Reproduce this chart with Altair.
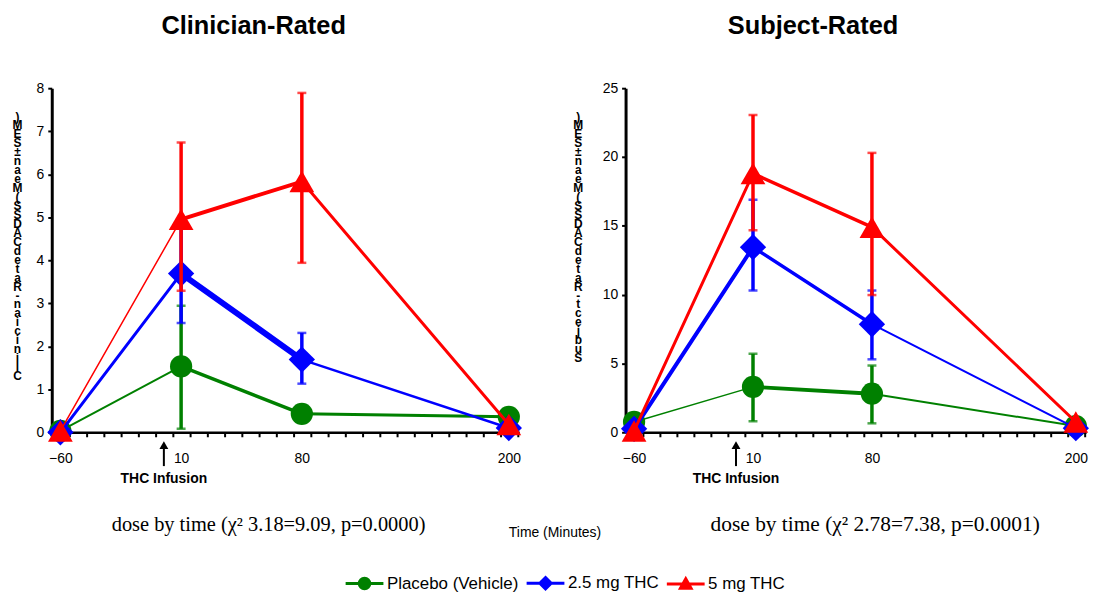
import altair as alt
import pandas as pd

# ---------------- data ----------------
TIMES = [-60, 10, 80, 200]
SERIES = ["Placebo (Vehicle)", "2.5 mg THC", "5 mg THC"]
COLORS = ["#008000", "#0000FF", "#FF0000"]
SHAPES = ["circle", "diamond", "triangle-up"]
MARKER_SIZES = [500, 700, 620]

X_TICK_LABELS = [-60, 10, 80, 200]
MINOR_TICKS = [-54.5, -44.5, -34.5, -24.5, -14.5, -4.5, 5.5, 15.5, 25.5, 35.5, 45.5,
               55.5, 65.5, 75.5, 85.5, 95.5, 105.5, 115.5, 125.5, 135.5, 145.5,
               155.5, 165.5, 175.5, 185.5, 195.5, 205.5]
INFUSION_TIME = 0

# Clinician-rated CADSS (mean, lower / upper error bar ends)
clin_placebo = [0.03, 1.53, 0.43, 0.36]
clin_placebo_low = [0.03, 0.08, 0.25, 0.36]
clin_placebo_high = [0.03, 2.94, 0.60, 0.36]
clin_25mg = [0.0, 3.69, 1.69, 0.10]
clin_25mg_low = [0.0, 2.54, 1.13, 0.10]
clin_25mg_high = [0.0, 4.84, 2.31, 0.10]
clin_5mg = [0.03, 4.95, 5.83, 0.18]
clin_5mg_low = [0.03, 3.29, 3.94, 0.18]
clin_5mg_high = [0.03, 6.74, 7.89, 0.18]

# Subject-rated CADSS
subj_placebo = [0.75, 3.30, 2.80, 0.45]
subj_placebo_low = [0.75, 0.80, 0.65, 0.45]
subj_placebo_high = [0.75, 5.70, 4.85, 0.45]
subj_25mg = [0.25, 13.45, 7.85, 0.30]
subj_25mg_low = [0.25, 10.30, 5.30, 0.30]
subj_25mg_high = [0.25, 16.90, 10.30, 0.30]
subj_5mg = [0.10, 18.80, 14.90, 0.75]
subj_5mg_low = [0.10, 14.67, 9.97, 0.75]
subj_5mg_high = [0.10, 23.05, 20.30, 0.75]

# line widths of each segment (style)
clin_seg_widths = [[2, 3.5, 3], [3, 6, 2.5], [1.5, 4, 3]]
subj_seg_widths = [[1.5, 4, 2], [4, 3.5, 2], [3, 3.5, 3]]

CLIN_YTITLE = "Clinician-Rated CADSS (Mean \u00b1 SEM)"
SUBJ_YTITLE = "Subject-Rated CADSS (Mean \u00b1 SEM)"
CLIN_NOTE = "dose by time (\u03c7\u00b2 3.18=9.09, p=0.0000)"
SUBJ_NOTE = "dose by time (\u03c7\u00b2 2.78=7.38, p=0.0001)"

# ---------------- chart ----------------
H = 346
X_DOMAIN = [-65, 206]
SANS = "Liberation Sans"
SERIF = "Liberation Serif"

LEG_PATHS = [
    "M-1,0L1,0M-0.28,0A0.28,0.28,0,1,0,0.28,0A0.28,0.28,0,1,0,-0.28,0Z",
    "M-1,0L1,0M0,-0.3L0.3,0L0,0.3L-0.3,0Z",
    "M-1,0L1,0M0,-0.28L0.28,0.22L-0.28,0.22Z",
]
shape_expr = ("datum.value === '%s' ? '%s' : datum.value === '%s' ? '%s' : '%s'"
              % (SERIES[0], LEG_PATHS[0], SERIES[1], LEG_PATHS[1], LEG_PATHS[2]))

LEGEND = alt.Legend(
    orient="none", legendX=294, legendY=477, direction="horizontal", title=None,
    labelFontSize=17, labelFont=SANS, labelColor="black", symbolSize=1444,
    symbolStrokeWidth=3, columnPadding=1, labelOffset=2, symbolOpacity=1,
    symbolType={"expr": shape_expr},
    symbolStrokeColor={"expr": "scale('color', datum.value)"},
)


def build_panel(title_text, title_dx, ytitle, ytitle_x, ymax, ystep, width,
                means, lows, highs, widths, note, note_x, note_size, time_label):
    xs = alt.Scale(domain=X_DOMAIN, nice=False, zero=False)
    ys = alt.Scale(domain=[0, ymax], nice=False)
    xaxis = alt.Axis(values=X_TICK_LABELS, title=None, ticks=False, grid=False,
                     labelPadding=19, labelFontSize=14, labelFont=SANS,
                     labelColor="black", domainColor="black", domainWidth=2.5,
                     labelFlush=False)
    yaxis = alt.Axis(values=list(range(0, ymax + 1, ystep)), grid=False,
                     title=list(reversed(ytitle)), titleAngle=0, titleAlign="center",
                     titleBaseline="top", titleX=ytitle_x, titleY=23,
                     titleLineHeight=9.0, titleFontSize=12, titleFont=SANS,
                     titleFontWeight="bold", titleColor="black",
                     tickSize=4, tickWidth=2, tickColor="black",
                     domainColor="black", domainWidth=3,
                     labelFontSize=14, labelFont=SANS, labelColor="black",
                     labelPadding=4)

    layers = []
    tick_df = pd.DataFrame({"t": MINOR_TICKS})
    layers.append(alt.Chart(tick_df).mark_rule(color="black", strokeWidth=2).encode(
        x=alt.X("t:Q", scale=xs, axis=xaxis), y=alt.value(H), y2=alt.value(H + 5)))

    for i, s in enumerate(SERIES):
        col = COLORS[i]
        m, lo, hi = means[i], lows[i], highs[i]
        seg = pd.DataFrame({
            "x": TIMES[:-1], "x2": TIMES[1:], "y": m[:-1], "y2": m[1:], "w": widths[i],
        })
        layers.append(alt.Chart(seg).mark_rule(color=col, strokeCap="round").encode(
            x=alt.X("x:Q", scale=xs, axis=xaxis), x2="x2:Q",
            y=alt.Y("y:Q", scale=ys, axis=yaxis), y2="y2:Q",
            strokeWidth=alt.StrokeWidth("w:Q", scale=None)))
        err = pd.DataFrame({"time": TIMES, "lo": lo, "hi": hi})
        layers.append(alt.Chart(err).mark_rule(color=col, strokeWidth=3.5).encode(
            x=alt.X("time:Q", scale=xs, axis=xaxis),
            y=alt.Y("lo:Q", scale=ys, axis=yaxis), y2="hi:Q"))
        caps = pd.DataFrame({"time": TIMES + TIMES, "v": lo + hi})
        layers.append(alt.Chart(caps).mark_tick(color=col, orient="horizontal",
                                                size=9, thickness=2.5).encode(
            x=alt.X("time:Q", scale=xs, axis=xaxis),
            y=alt.Y("v:Q", scale=ys, axis=yaxis)))
        pts = pd.DataFrame({"time": TIMES, "value": m, "series": s})
        layers.append(alt.Chart(pts).mark_point(shape=SHAPES[i], filled=True,
                                                size=MARKER_SIZES[i], opacity=1).encode(
            x=alt.X("time:Q", scale=xs, axis=xaxis),
            y=alt.Y("value:Q", scale=ys, axis=yaxis),
            color=alt.Color("series:N", scale=alt.Scale(domain=SERIES, range=COLORS),
                            legend=LEGEND)))

    inf = pd.DataFrame({"t": [INFUSION_TIME], "label": ["THC Infusion"]})
    layers.append(alt.Chart(inf).mark_rule(color="black", strokeWidth=2).encode(
        x=alt.X("t:Q", scale=xs, axis=xaxis), y=alt.value(H + 14), y2=alt.value(H + 34)))
    layers.append(alt.Chart(inf).mark_point(shape="triangle-up", filled=True, size=80,
                                            color="black", opacity=1).encode(
        x=alt.X("t:Q", scale=xs, axis=xaxis), y=alt.value(H + 13)))
    layers.append(alt.Chart(inf).mark_text(font=SANS, fontSize=14, fontWeight="bold",
                                           color="black").encode(
        x=alt.X("t:Q", scale=xs, axis=xaxis), y=alt.value(H + 47), text="label:N"))

    note_df = pd.DataFrame({"label": [note]})
    layers.append(alt.Chart(note_df).mark_text(font=SERIF, fontSize=note_size,
                                               color="black").encode(
        x=alt.value(note_x), y=alt.value(H + 93), text="label:N"))
    if time_label:
        tl = pd.DataFrame({"label": ["Time (Minutes)"]})
        layers.append(alt.Chart(tl).mark_text(font=SANS, fontSize=14,
                                              color="black").encode(
            x=alt.value(506), y=alt.value(H + 101), text="label:N"))

    return alt.layer(*layers).properties(
        width=width, height=H,
        title=alt.TitleParams(title_text, fontSize=25.5, fontWeight="bold", font=SANS,
                              color="black", anchor="middle", dx=title_dx, offset=42),
    )


clin_means = [clin_placebo, clin_25mg, clin_5mg]
clin_lows = [clin_placebo_low, clin_25mg_low, clin_5mg_low]
clin_highs = [clin_placebo_high, clin_25mg_high, clin_5mg_high]
subj_means = [subj_placebo, subj_25mg, subj_5mg]
subj_lows = [subj_placebo_low, subj_25mg_low, subj_5mg_low]
subj_highs = [subj_placebo_high, subj_25mg_high, subj_5mg_high]

left = build_panel("Clinician-Rated", -32, CLIN_YTITLE, -35, 8, 1, 470,
                   clin_means, clin_lows, clin_highs, clin_seg_widths,
                   CLIN_NOTE, 218, 20.5, True)
right = build_panel("Subject-Rated", -43, SUBJ_YTITLE, -48, 25, 5, 463,
                    subj_means, subj_lows, subj_highs, subj_seg_widths,
                    SUBJ_NOTE, 251, 21.5, False)

chart = alt.hconcat(left, right, spacing=107, bounds="flush").properties(
    padding={"left": 4, "top": 4, "right": 0, "bottom": 0}
).configure(font=SANS).configure_view(stroke=None)

chart.save("out.html", embed_options={"renderer": "svg", "actions": False})
